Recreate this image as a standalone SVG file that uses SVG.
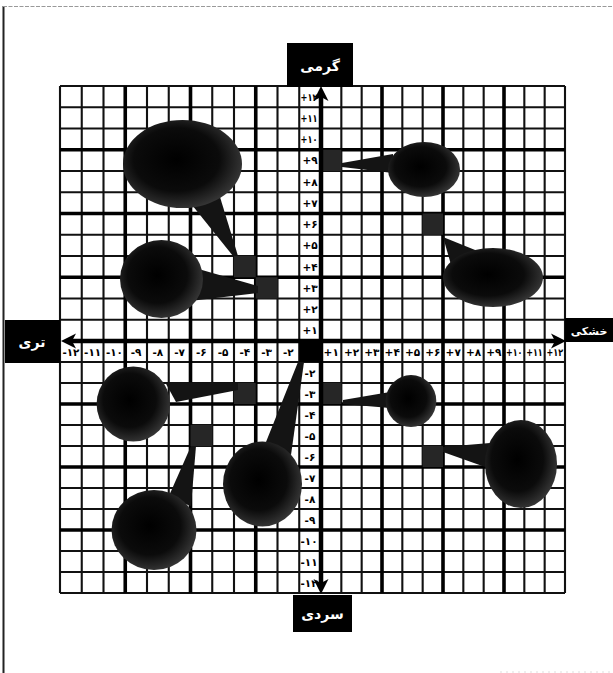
<svg xmlns="http://www.w3.org/2000/svg" width="613" height="673" viewBox="0 0 613 673">
<style>
.thin{stroke:#111;stroke-width:2.1;fill:none}
.thick{stroke:#000;stroke-width:3.6;fill:none}
.lbl{font-family:"DejaVu Sans",sans-serif;font-weight:bold;font-size:10.5px;fill:#000;text-anchor:middle}
.hdr{font-family:"DejaVu Sans","Noto Sans",sans-serif;font-weight:bold;font-size:14px;fill:#fff;text-anchor:middle}
.box{fill:#000}
.bub{fill:url(#bg)}
.tail{fill:#141414}
.sq{fill:#262626}
</style>
<defs>
<radialGradient id="bg" cx="0.45" cy="0.45" r="0.6">
<stop offset="0" stop-color="#000"/>
<stop offset="0.6" stop-color="#0b0b0b"/>
<stop offset="1" stop-color="#3c3c3c"/>
</radialGradient>
</defs>
<rect width="613" height="673" fill="#fff"/>
<g id="frame">
<line x1="3.5" y1="6" x2="3.5" y2="673" stroke="#222" stroke-width="2"/>
<line x1="3" y1="6.5" x2="613" y2="6.5" stroke="#999" stroke-width="1" stroke-dasharray="4,1.5"/>
<line x1="500" y1="672" x2="613" y2="672" stroke="#ddd" stroke-width="1" stroke-dasharray="2,4"/>
</g>
<g id="grid">
<path class="thin" d="M60 86V593M81.75 86V593M103.5 86V593M147 86V593M168.75 86V593M212.25 86V593M234 86V593M277.5 86V593M299.25 86V593M341.33 86V593M361.67 86V593M402.33 86V593M422.67 86V593M463.33 86V593M483.67 86V593M524.33 86V593M544.67 86V593M565 86V593"/>
<path class="thin" d="M60 86H565M60 107.25H565M60 128.5H565M60 171H565M60 192.25H565M60 234.75H565M60 256H565M60 298.5H565M60 319.75H565M60 362H565M60 383H565M60 425H565M60 446H565M60 488H565M60 509H565M60 551H565M60 572H565M60 593H565"/>
<path class="thick" d="M125.25 86V593M190.5 86V593M255.75 86V593M382 86V593M443 86V593M504 86V593"/>
<path class="thick" d="M60 149.75H565M60 213.5H565M60 277.25H565M60 404H565M60 467H565M60 530H565"/>
</g>
<g id="squares">
<rect id="sq1" class="sq" x="234" y="256" width="21.75" height="21.25"/>
<rect id="sq2" class="sq" x="255.75" y="277.25" width="21.75" height="21.25"/>
<rect id="sq3" class="sq" x="321" y="149.75" width="20.33" height="21.25"/>
<rect id="sq4" class="sq" x="422.67" y="213.5" width="20.33" height="21.25"/>
<rect id="sq5" class="sq" x="234" y="383" width="21.75" height="21"/>
<rect id="sq6" class="sq" x="190.5" y="425" width="21.75" height="21"/>
<rect id="sq7" class="sq" x="321" y="383" width="20.33" height="21"/>
<rect id="sq8" class="sq" x="422.67" y="446" width="20.33" height="21"/>
<rect id="origin" fill="#000" x="299.25" y="341" width="21.75" height="21"/>
</g>
<g id="bubble1"><polygon class="tail" points="188,200 220,197 238,256 233,256"/><ellipse class="bub" cx="182.5" cy="164" rx="59.5" ry="44"/></g>
<g id="bubble2"><polygon class="tail" points="195,268 258,286 258,293 190,301"/><ellipse class="bub" cx="161.5" cy="279" rx="41.5" ry="39"/></g>
<g id="bubble3"><polygon class="tail" points="393,154 342,163 342,167 393,173"/><ellipse class="bub" cx="424" cy="169.5" rx="36" ry="27.5"/></g>
<g id="bubble4"><polygon class="tail" points="443,237 480,252 452,268"/><ellipse class="bub" cx="493" cy="277.5" rx="50" ry="29.5"/></g>
<g id="bubble5"><polygon class="tail" points="165,382 238,383 238,390 176,402"/><ellipse class="bub" cx="133.3" cy="404" rx="36.7" ry="37.5"/></g>
<g id="bubble6"><polygon class="tail" points="196,446 191,446 168,498 191,506"/><ellipse class="bub" cx="154" cy="530" rx="42.5" ry="40"/></g>
<g id="bubble7"><polygon class="tail" points="304,362 298,362 264,447 291,455"/><ellipse class="bub" cx="262.5" cy="484" rx="39.5" ry="42.5"/></g>
<g id="bubble8"><polygon class="tail" points="390,392 343,400 343,404 390,408"/><ellipse class="bub" cx="411" cy="401" rx="25.3" ry="26"/></g>
<g id="bubble9"><polygon class="tail" points="490,443 443,447 443,452 488,468"/><ellipse class="bub" cx="521" cy="464" rx="36" ry="44"/></g>
<g id="connectors">
<line x1="321" y1="95" x2="321" y2="586" stroke="#000" stroke-width="4.5"/>
<line x1="70" y1="341" x2="557" y2="341" stroke="#000" stroke-width="4.5"/>
<polygon points="321,86 313.5,101 321,97 328.5,101" fill="#000"/>
<polygon points="321,594 313.5,579 321,583 328.5,579" fill="#000"/>
<polygon points="61,341 76,333.5 72,341 76,348.5" fill="#000"/>
<polygon points="566,341 551,333.5 555,341 551,348.5" fill="#000"/>
</g>
<g id="vlabels">
<text class="lbl" x="309" y="100.5" textLength="17" lengthAdjust="spacingAndGlyphs">+۱۲</text>
<text class="lbl" x="309" y="121.5" textLength="17" lengthAdjust="spacingAndGlyphs">+۱۱</text>
<text class="lbl" x="309" y="143" textLength="17" lengthAdjust="spacingAndGlyphs">+۱۰</text>
<text class="lbl" x="310" y="164">+۹</text>
<text class="lbl" x="310" y="185.5">+۸</text>
<text class="lbl" x="310" y="206.5">+۷</text>
<text class="lbl" x="310" y="228">+۶</text>
<text class="lbl" x="310" y="249">+۵</text>
<text class="lbl" x="310" y="270.5">+۴</text>
<text class="lbl" x="310" y="291.5">+۳</text>
<text class="lbl" x="310" y="312.5">+۲</text>
<text class="lbl" x="310" y="334">+۱</text>
<text class="lbl" x="310" y="376.5">-۲</text>
<text class="lbl" x="310" y="397.5">-۳</text>
<text class="lbl" x="310" y="418.5">-۴</text>
<text class="lbl" x="310" y="439.5">-۵</text>
<text class="lbl" x="310" y="460.5">-۶</text>
<text class="lbl" x="310" y="481.5">-۷</text>
<text class="lbl" x="310" y="502.5">-۸</text>
<text class="lbl" x="310" y="523.5">-۹</text>
<text class="lbl" x="309" y="544.5" textLength="17" lengthAdjust="spacingAndGlyphs">-۱۰</text>
<text class="lbl" x="309" y="565.5" textLength="17" lengthAdjust="spacingAndGlyphs">-۱۱</text>
<text class="lbl" x="309" y="586.5" textLength="17" lengthAdjust="spacingAndGlyphs">-۱۲</text>
</g>
<g id="hlabels">
<text class="lbl" x="70.9" y="355.5" textLength="17" lengthAdjust="spacingAndGlyphs">-۱۲</text>
<text class="lbl" x="92.6" y="355.5" textLength="17" lengthAdjust="spacingAndGlyphs">-۱۱</text>
<text class="lbl" x="114.4" y="355.5" textLength="17" lengthAdjust="spacingAndGlyphs">-۱۰</text>
<text class="lbl" x="136.1" y="355.5">-۹</text>
<text class="lbl" x="157.9" y="355.5">-۸</text>
<text class="lbl" x="179.6" y="355.5">-۷</text>
<text class="lbl" x="201.4" y="355.5">-۶</text>
<text class="lbl" x="223.1" y="355.5">-۵</text>
<text class="lbl" x="244.9" y="355.5">-۴</text>
<text class="lbl" x="266.6" y="355.5">-۳</text>
<text class="lbl" x="288.4" y="355.5">-۲</text>
<text class="lbl" x="331.2" y="355.5">+۱</text>
<text class="lbl" x="351.5" y="355.5">+۲</text>
<text class="lbl" x="371.8" y="355.5">+۳</text>
<text class="lbl" x="392.2" y="355.5">+۴</text>
<text class="lbl" x="412.5" y="355.5">+۵</text>
<text class="lbl" x="432.8" y="355.5">+۶</text>
<text class="lbl" x="453.2" y="355.5">+۷</text>
<text class="lbl" x="473.5" y="355.5">+۸</text>
<text class="lbl" x="493.8" y="355.5">+۹</text>
<text class="lbl" x="514.2" y="355.5" textLength="16.5" lengthAdjust="spacingAndGlyphs">+۱۰</text>
<text class="lbl" x="534.5" y="355.5" textLength="16.5" lengthAdjust="spacingAndGlyphs">+۱۱</text>
<text class="lbl" x="554.8" y="355.5" textLength="16.5" lengthAdjust="spacingAndGlyphs">+۱۲</text>
</g>
<g id="top-label"><rect class="box" x="287" y="43" width="66" height="44"/><text class="hdr" x="320" y="71">گرمی</text></g>
<g id="bottom-label"><rect class="box" x="293" y="595" width="59" height="37"/><text class="hdr" x="322.5" y="619">سردی</text></g>
<g id="left-label"><rect class="box" x="5" y="320" width="55" height="43"/><text class="hdr" x="32" y="347">تری</text></g>
<g id="right-label"><rect class="box" x="565" y="318" width="48" height="24"/><text class="hdr" x="589" y="334.5" style="font-size:11px">خشکی</text></g>
</svg>
